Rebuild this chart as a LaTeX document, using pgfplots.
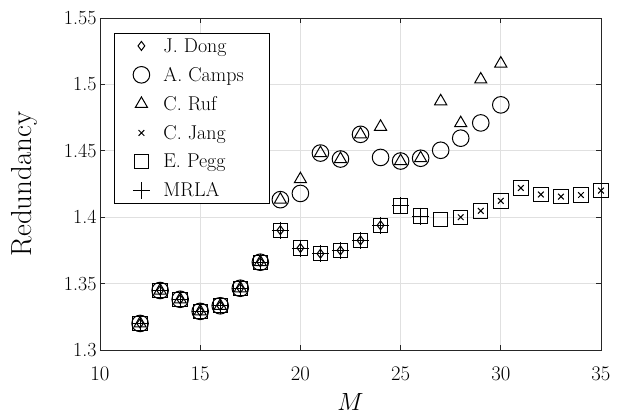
\documentclass[border=0pt]{standalone}
\usepackage{pgfplots}
\pgfplotsset{compat=1.18}
\usetikzlibrary{calc}
\definecolor{axgray}{gray}{0.15}
\definecolor{gridgray}{gray}{0.88}

% Redundancy of the known arrays, one table per source
\pgfplotstableread{
M R
12 1.3200
13 1.3448
14 1.3382
15 1.3291
16 1.3333
17 1.3465
18 1.3661
19 1.3902
20 1.3768
21 1.3725
22 1.3750
23 1.3825
24 1.3939
}\dong
\pgfplotstableread{
M R
12 1.3200
13 1.3448
14 1.3382
15 1.3291
16 1.3333
17 1.3465
18 1.3661
19 1.4132
20 1.4179
21 1.4483
22 1.4438
23 1.4624
24 1.4450
25 1.4423
26 1.4444
27 1.4504
28 1.4595
29 1.4710
30 1.4846
}\camps
\pgfplotstableread{
M R
12 1.3200
13 1.3448
14 1.3382
15 1.3291
16 1.3333
17 1.3465
18 1.3661
19 1.4132
20 1.4286
21 1.4483
22 1.4438
23 1.4624
24 1.4681
25 1.4423
26 1.4444
27 1.4873
28 1.4708
29 1.5037
30 1.5157
}\ruf
\pgfplotstableread{
M R
28 1.4000
29 1.4048
30 1.4123
31 1.4220
32 1.4171
33 1.4155
34 1.4167
35 1.4200
}\jang
\pgfplotstableread{
M R
12 1.3200
13 1.3448
14 1.3382
15 1.3291
16 1.3333
17 1.3465
18 1.3661
19 1.3902
20 1.3768
21 1.3725
22 1.3750
23 1.3825
24 1.3939
25 1.4085
26 1.4009
27 1.3984
28 1.4000
29 1.4048
30 1.4123
31 1.4220
32 1.4171
33 1.4155
34 1.4167
35 1.4200
}\pegg
\pgfplotstableread{
M R
12 1.3200
13 1.3448
14 1.3382
15 1.3291
16 1.3333
17 1.3465
18 1.3661
19 1.3902
20 1.3768
21 1.3725
22 1.3750
23 1.3825
24 1.3939
25 1.4085
26 1.4009
}\mrla

\begin{document}
\begin{tikzpicture}
\begin{axis}[
    at={(0,0)}, anchor=south west,
    scale only axis, width=501pt, height=332pt,
    xmin=10, xmax=35, ymin=1.3, ymax=1.55,
    xtick={10,15,20,25,30,35},
    ytick={1.3,1.35,1.4,1.45,1.5,1.55},
    yticklabels={1.3,1.35,1.4,1.45,1.5,1.55},
    tick align=inside, major tick length=5pt,
    grid=major,
    major grid style={gridgray, line width=0.9pt},
    axis line style={axgray, line width=0.9pt},
    tick style={axgray, line width=0.9pt},
    ticklabel style={font=\fontsize{20}{24}\selectfont, text=black},
    xticklabel style={yshift=-14pt},
    xlabel={$M$}, ylabel={Redundancy},
    xlabel style={font=\fontsize{26}{31}\selectfont, at={(rel axis cs:0.5,-0.157)}, anchor=center},
    ylabel style={font=\fontsize{29}{34}\selectfont, at={(rel axis cs:-0.150,0.5)}, anchor=center},
    clip=false,
    legend cell align=left,
    legend image code/.code={
      \path[draw=none, fill=none] (0pt,0pt) rectangle (45pt,0pt);
      \draw[#1, only marks] plot coordinates {(25pt,0pt)};
    },
    legend style={at={(0.028,0.955)}, anchor=north west, draw=black,
      line width=0.8pt, fill=white, font=\fontsize{20}{24}\selectfont,
      row sep=9.5pt, inner xsep=2pt, inner ysep=3pt},
  ]
  \addplot[only marks, black, line width=1pt, mark=diamond, mark size=4.5pt] table[x=M, y=R] {\dong};
  \addplot[only marks, black, line width=1pt, mark=o, mark size=8.3pt] table[x=M, y=R] {\camps};
  \addplot[only marks, black, line width=1pt, mark=triangle, mark size=7pt] table[x=M, y=R] {\ruf};
  \addplot[only marks, black, line width=1pt, mark=x, mark size=4pt] table[x=M, y=R] {\jang};
  \addplot[only marks, black, line width=1pt, mark=square, mark size=7.2pt] table[x=M, y=R] {\pegg};
  \addplot[only marks, black, line width=1pt, mark=+, mark size=8.5pt] table[x=M, y=R] {\mrla};
  \legend{J. Dong, A. Camps\hspace*{22pt}, C. Ruf, C. Jang, E. Pegg, MRLA}
\end{axis}
\pgfresetboundingbox
\path (-100pt,-66pt) rectangle (526pt,350pt);
\end{tikzpicture}
\end{document}
